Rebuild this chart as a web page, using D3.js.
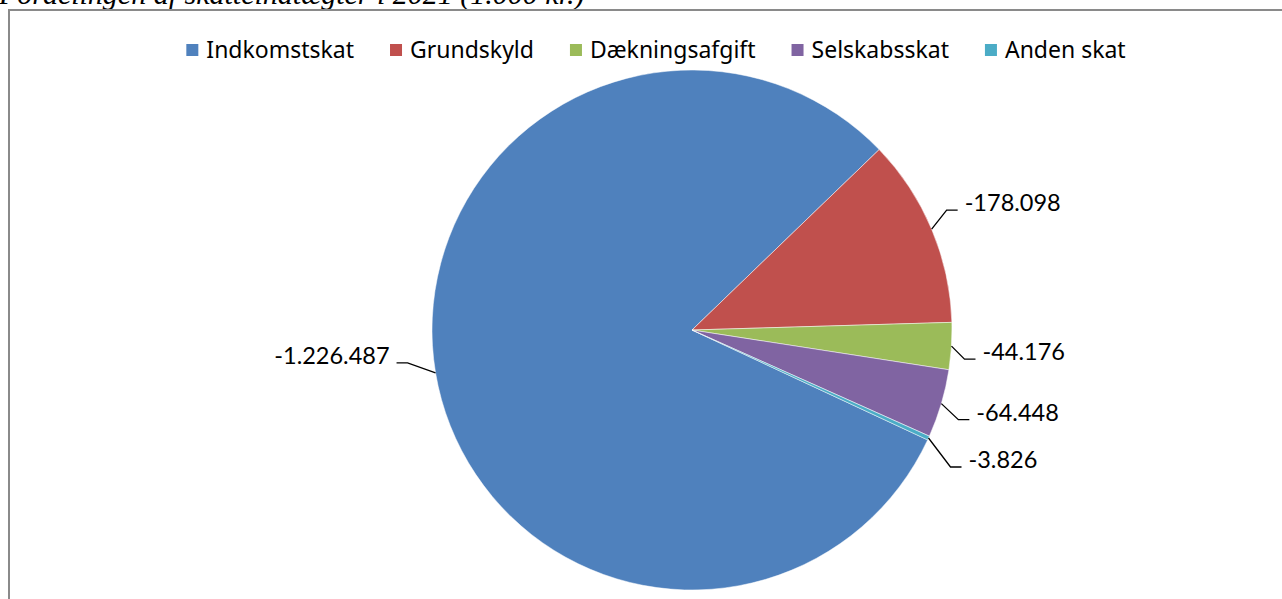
<!DOCTYPE html>
<html>
<head>
<meta charset="utf-8">
<script src="https://cdn.jsdelivr.net/npm/d3@7"></script>
<style>
  html, body { margin: 0; padding: 0; background: #fff; overflow: hidden; }
  svg { display: block; }
</style>
</head>
<body>
<div id="chart"></div>
<script>
// Skatteindtægter 2021, 1.000 kr.
var categories = ["Indkomstskat", "Grundskyld", "Dækningsafgift", "Selskabsskat", "Anden skat"];
var values = [-1226487, -178098, -44176, -64448, -3826];
var colors = ["#4F81BD", "#C0504D", "#9BBB59", "#8064A2", "#4BACC6"];
var titleText = "Fordelingen af skatteindtægter i 2021 (1.000 kr.)";

// label nudges relative to the point where the leader leaves the pie
var labelNudge = [[-46, -17], [33, -26], [31, 6], [35, 9], [40, 22]];

var width = 1282;
var height = 599;
var cx = 692, cy = 330, radius = 260;
var firstSliceAngle = 115; // degrees, like Excel

var da = d3.formatLocale({ decimal: ",", thousands: ".", grouping: [3], currency: ["", " kr."], minus: "-" });
var fmt = da.format(",d");

var svg = d3.select("#chart")
    .append("svg")
    .attr("width", width)
    .attr("height", height);

// title above the chart frame (cut by the page top)
svg.append("text")
    .attr("x", -1)
    .attr("y", 4)
    .attr("font-family", "Liberation Serif, serif")
    .attr("font-style", "italic")
    .attr("font-size", 30)
    .attr("fill", "#000")
    .text(titleText);

// chart frame
svg.append("rect")
    .attr("x", 9)
    .attr("y", 10)
    .attr("width", width + 20)
    .attr("height", height + 20)
    .attr("fill", "#fff")
    .attr("stroke", "#8a8a8a")
    .attr("stroke-width", 2);

// legend
var legend = svg.append("g").attr("transform", "translate(0,50)");
var legendItems = legend.selectAll("g.item")
    .data(categories)
    .enter()
    .append("g")
    .attr("class", "item");

legendItems.append("rect")
    .attr("width", 12)
    .attr("height", 12)
    .attr("y", -6)
    .attr("fill", function (d, i) { return colors[i]; });

legendItems.append("text")
    .attr("x", 20)
    .attr("dy", "0.35em")
    .attr("font-family", "Noto Sans, sans-serif")
    .attr("font-size", 23)
    .attr("fill", "#000")
    .text(function (d) { return d; });

// lay out legend items side by side, centred
var gap = 36;
var widthsL = [];
legendItems.each(function () {
    widthsL.push(20 + this.querySelector("text").getComputedTextLength());
});
var totalL = d3.sum(widthsL) + gap * (widthsL.length - 1);
var xPos = 656 - totalL / 2;
legendItems.each(function (d, i) {
    d3.select(this).attr("transform", "translate(" + xPos + ",0)");
    xPos += widthsL[i] + gap;
});

// pie
var pie = d3.pie()
    .sort(null)
    .value(function (d) { return Math.abs(d); })
    .startAngle(firstSliceAngle * Math.PI / 180)
    .endAngle(firstSliceAngle * Math.PI / 180 + 2 * Math.PI);

var arc = d3.arc().innerRadius(0).outerRadius(radius);

var arcs = pie(values);

var g = svg.append("g").attr("transform", "translate(" + cx + "," + cy + ")");

g.selectAll("path.slice")
    .data(arcs)
    .enter()
    .append("path")
    .attr("class", "slice")
    .attr("d", arc)
    .attr("fill", function (d, i) { return colors[i]; })
    .attr("stroke", "#fff")
    .attr("stroke-width", 0.5);

// data labels with leader lines
function edgePoint(d) {
    var a = (d.startAngle + d.endAngle) / 2;
    return [radius * Math.sin(a), -radius * Math.cos(a)];
}

arcs.forEach(function (d, i) {
    var p = edgePoint(d);
    var lx = p[0] + labelNudge[i][0];
    var ly = p[1] + labelNudge[i][1];
    var right = lx > p[0];
    var s = right ? 1 : -1;
    var pts = [p, [lx - s * 18, ly + 7], [lx - s * 7, ly + 7]];

    g.append("path")
        .attr("d", d3.line()(pts))
        .attr("fill", "none")
        .attr("stroke", "#000")
        .attr("stroke-width", 1.3);

    g.append("text")
        .attr("x", lx)
        .attr("y", ly)
        .attr("dy", "0.35em")
        .attr("text-anchor", right ? "start" : "end")
        .attr("font-family", "Lato, sans-serif")
        .attr("font-size", 23.5)
        .attr("fill", "#000")
        .text(fmt(values[i]));
});
</script>
</body>
</html>
